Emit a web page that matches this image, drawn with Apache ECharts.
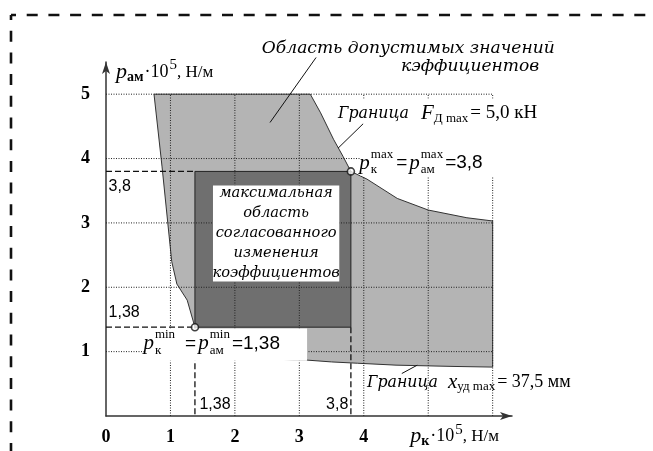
<!DOCTYPE html>
<html><head><meta charset="utf-8">
<script src="https://cdn.jsdelivr.net/npm/echarts@6/dist/echarts.min.js"></script>
<style>html,body{margin:0;padding:0;background:#fff}#c{width:653px;height:451px}</style>
</head><body><div id="c"></div>
<script>
// ---- data ----
const xTicks = [0, 1, 2, 3, 4, 5, 6];
const yTicks = [0, 1, 2, 3, 4, 5];
const xTickLabels = ['0', '1', '2', '3', '4'];
const yTickLabels = ['1', '2', '3', '4', '5'];
const pMin = 1.38;
const pMax = 3.8;
// boundary of the admissible region (p_k, p_am)
const regionBoundary = [
  [0.745, 5], [3.17, 5], [3.33, 4.71], [3.53, 4.3], [3.68, 4.03], [3.8, 3.8],
  [4.05, 3.68], [4.52, 3.38], [5.0, 3.2], [5.6, 3.08], [6.0, 3.03],
  [6.0, 0.76], [5.4, 0.77], [4.5, 0.79], [3.9, 0.82], [3.5, 0.84], [3.1, 0.87],
  [2.9, 0.87], [1.45, 0.95], [1.38, 1.38], [1.26, 1.8], [1.1, 2.05], [1.02, 2.4], [0.87, 3.87]
];
const maxRegion = [[pMin, pMin], [pMax, pMin], [pMax, pMax], [pMin, pMax]];
const keyPoints = [[pMin, pMin], [pMax, pMax]];
const guideLines = [
  [[0, pMax], [pMin, pMax]],
  [[0, pMin], [pMin, pMin]],
  [[pMin, pMin], [pMin, 0]],
  [[pMax, pMin], [pMax, 0]]
];
const boxLines = ['максимальная', 'область', 'согласованного', 'изменения', 'коэффициентов'];

// ---- layout helpers (not data) ----
const innerBox = [[1.66, 2.09], [3.62, 2.09], [3.62, 3.58], [1.66, 3.58]];
const minLabelBox = [[0.61, 0.86], [3.12, 0.86], [3.12, 1.36], [0.61, 1.36]];
const masks = [
  [[3.56, 4.29], [6.1, 4.29], [6.1, 4.93], [3.56, 4.93]],
  [[3.95, 3.73], [6.1, 3.73], [6.1, 4.29], [3.95, 4.29]]
];

function polySeries(points, fill, stroke, z) {
  return {
    type: 'custom', coordinateSystem: 'cartesian2d', z: z, silent: true, clip: false,
    encode: { x: 0, y: 1 }, data: points,
    renderItem: function (params, api) {
      if (params.dataIndex !== 0) return null;
      return { type: 'polygon', shape: { points: points.map(p => api.coord(p)) },
        style: { fill: fill, stroke: stroke || null, lineWidth: stroke ? 1 : 0 } };
    }
  };
}
function gridSeries(vals, vertical) {
  return {
    type: 'custom', coordinateSystem: 'cartesian2d', z: 3, silent: true,
    encode: vertical ? { x: 0 } : { y: 0 },
    data: vals.filter(v => v > 0).map(v => vertical ? [v, 0] : [0, v]),
    renderItem: function (params, api) {
      const v = vertical ? api.value(0) : api.value(1);
      const a = vertical ? api.coord([v, 0]) : api.coord([0, v]);
      const b = vertical ? api.coord([v, yTicks[yTicks.length - 1]]) : api.coord([xTicks[xTicks.length - 1], v]);
      return { type: 'line', shape: { x1: a[0], y1: a[1], x2: b[0], y2: b[1] },
        style: { stroke: '#222', lineWidth: 1, lineDash: [1, 1.5] } };
    }
  };
}

const series = [
  polySeries(regionBoundary, '#b4b4b4', '#333', 1),
  polySeries(maxRegion, '#6f6f6f', '#222', 2),
  gridSeries(xTicks, true),
  gridSeries(yTicks, false)
];
guideLines.forEach(l => series.push({
  type: 'line', data: l, symbol: 'none', z: 4, silent: true,
  lineStyle: { color: '#111', width: 1.3, type: [6, 3] }
}));
masks.forEach(m => series.push(polySeries(m, '#fff', null, 5)));
series.push(polySeries(innerBox, '#fff', null, 5));
series.push(polySeries(minLabelBox, '#fff', null, 5));
series.push({
  type: 'scatter', data: keyPoints, symbol: 'circle', symbolSize: 7, z: 6, silent: true,
  itemStyle: { color: '#fff', borderColor: '#111', borderWidth: 1.6 }
});

const option = {
  animation: false,
  backgroundColor: '#fff',
  grid: { left: 106, right: 141, top: 62, bottom: 35 },
  xAxis: {
    type: 'value', min: 0, max: 6.3, interval: 1,
    axisLine: { lineStyle: { color: '#333', width: 1.5 }, symbol: ['none', 'arrow'], symbolSize: [6, 12] },
    axisTick: { show: false }, splitLine: { show: false },
    axisLabel: { margin: 12, color: '#000', fontFamily: 'Liberation Serif', fontWeight: 'bold', fontSize: 18,
      formatter: v => { const i = xTicks.indexOf(v); return (i >= 0 && i < xTickLabels.length) ? xTickLabels[i] : ''; } }
  },
  yAxis: {
    type: 'value', min: 0, max: 5.5, interval: 1,
    axisLine: { lineStyle: { color: '#333', width: 1.5 }, symbol: ['none', 'arrow'], symbolSize: [6, 12] },
    axisTick: { show: false }, splitLine: { show: false },
    axisLabel: { margin: 16, color: '#000', fontFamily: 'Liberation Serif', fontWeight: 'bold', fontSize: 18,
      formatter: v => { const i = yTicks.indexOf(v); return (i > 0) ? yTickLabels[i - 1] : ''; } }
  },
  series: series
};

const chart = echarts.init(document.getElementById('c'));
chart.setOption(option);

// ---- annotations ----
const cv = document.createElement('canvas').getContext('2d');
function W(t, f) { cv.font = f; return cv.measureText(t).width; }
function fitSize(t, style, fam, target) { const f = style + ' 20px ' + fam; return 20 * target / W(t, f); }
function P(x, y) { return chart.convertToPixel({ gridIndex: 0 }, [x, y]); }
function T(t, x, y, f, align) {
  return { type: 'text', z: 100, silent: true,
    style: { text: t, x: x, y: y, font: f, fill: '#000',
      textAlign: align || 'left', textVerticalAlign: 'middle', align: align || 'left', verticalAlign: 'middle' } };
}
function L(a, b) {
  return { type: 'line', z: 100, silent: true, shape: { x1: a[0], y1: a[1], x2: b[0], y2: b[1] },
    style: { stroke: '#111', lineWidth: 1 } };
}
function formula(pt, parts) {
  const els = []; let x = pt[0]; const yc = pt[1];
  parts.forEach(p => {
    if (p.t !== undefined) {
      els.push(T(p.t, x, yc + (p.dy || 0), p.f));
      x += W(p.t, p.f) + (p.gap || 0);
    } else {
      els.push(T(p.sup, x, yc + p.supDy, p.f));
      els.push(T(p.sub, x, yc + p.subDy, p.f));
      x += Math.max(W(p.sup, p.f), W(p.sub, p.f)) + (p.gap || 0);
    }
  });
  return els;
}

const SERIF = '"Liberation Serif"';
const DEC = '"DejaVu Serif"';
const fP = 'italic 21px ' + SERIF;
const fS = '13px ' + SERIF;
const fEq = '19px "Liberation Sans"';
const els = [];

// dashed frame
els.push({ type: 'line', z: 100, silent: true, shape: { x1: 11, y1: 15, x2: 660, y2: 15 },
  style: { stroke: '#111', lineWidth: 2.6, lineDash: [11, 10.7], lineDashOffset: 6 } });
els.push({ type: 'line', z: 100, silent: true, shape: { x1: 11, y1: 15, x2: 11, y2: 460 },
  style: { stroke: '#111', lineWidth: 2.6, lineDash: [11, 10.7], lineDashOffset: 6 } });

// top annotation
const sArea = fitSize('Область допустимых значений', 'italic', DEC, 293);
const fArea = 'italic ' + sArea.toFixed(2) + 'px ' + DEC;
let a1 = P(4.69, 5.71), a2 = P(5.65, 5.43);
els.push(T('Область допустимых значений', a1[0], a1[1], fArea, 'center'));
els.push(T('кэффициентов', a2[0], a2[1], fArea, 'center'));
els.push(L(P(3.26, 5.57), P(2.545, 4.56)));

// inner box text
const sBox = fitSize('согласованного', 'italic', DEC, 121);
const fBox = 'italic ' + sBox.toFixed(2) + 'px ' + DEC;
const bc = P(2.64, 3.5);
boxLines.forEach((t, i) => els.push(T(t, bc[0], bc[1] + 2 + i * 20, fBox, 'center')));

// Граница F
const sGr = fitSize('Граница', 'italic', DEC, 71);
const fGr = 'italic ' + sGr.toFixed(2) + 'px ' + DEC;
els.push(...formula(P(3.60, 4.70), [
  { t: 'Граница', f: fGr, gap: 12 },
  { t: 'F', f: 'italic 21px ' + SERIF, gap: 0 },
  { t: 'Д max', f: fS, dy: 5, gap: 2 },
  { t: '= 5,0 кН', f: '19px ' + SERIF }
]));
els.push(L(P(3.99, 4.54), P(3.60, 4.16)));

// p max
els.push(...formula(P(3.93, 3.93), [
  { t: 'p', f: fP, gap: 1 },
  { sup: 'max', sub: 'к', f: fS, supDy: -8, subDy: 7, gap: 3 },
  { t: '=', f: fEq, gap: 2 },
  { t: 'p', f: fP, gap: 1 },
  { sup: 'max', sub: 'ам', f: fS, supDy: -8, subDy: 7, gap: 2 },
  { t: '=3,8', f: fEq }
]));

// p min
els.push(...formula(P(0.58, 1.13), [
  { t: 'p', f: fP, gap: 1 },
  { sup: 'min', sub: 'к', f: fS, supDy: -9, subDy: 7, gap: 10 },
  { t: '=', f: fEq, gap: 2 },
  { t: 'p', f: fP, gap: 1 },
  { sup: 'min', sub: 'ам', f: fS, supDy: -9, subDy: 7, gap: 2 },
  { t: '=1,38', f: fEq }
]));

// Граница x
els.push(...formula(P(4.05, 0.52), [
  { t: 'Граница', f: fGr, gap: 10 },
  { t: 'x', f: 'italic 21px ' + SERIF, gap: 0 },
  { t: 'уд max', f: fS, dy: 4, gap: 2 },
  { t: '= 37,5 мм', f: '18px ' + SERIF }
]));
els.push(L(P(4.83, 0.79), P(4.59, 0.66)));

// guide value labels
const fVal = '16px "Liberation Sans"';
let q;
q = P(0.04, 3.57); els.push(T('3,8', q[0], q[1], fVal));
q = P(0.04, 1.61); els.push(T('1,38', q[0], q[1], fVal));
q = P(1.45, 0.17); els.push(T('1,38', q[0], q[1], fVal));
q = P(3.76, 0.17); els.push(T('3,8', q[0], q[1], fVal, 'right'));

// axis names
els.push(...formula(P(0.155, 5.34), [
  { t: 'p', f: 'italic 22px ' + SERIF, gap: 0 },
  { t: 'ам', f: 'bold 14px ' + SERIF, dy: 5, gap: 1 },
  { t: '·10', f: '18px ' + SERIF, gap: 1 },
  { t: '5', f: '15px ' + SERIF, dy: -7, gap: 0 },
  { t: ', Н/м', f: '17px ' + SERIF }
]));
els.push(...formula(P(4.72, -0.32), [
  { t: 'p', f: 'italic 22px ' + SERIF, gap: 0 },
  { t: 'к', f: 'bold 14px ' + SERIF, dy: 5, gap: 1 },
  { t: '·10', f: '18px ' + SERIF, gap: 1 },
  { t: '5', f: '15px ' + SERIF, dy: -7, gap: 0 },
  { t: ', Н/м', f: '17px ' + SERIF }
]));

chart.setOption({ graphic: { elements: els } });
</script>
</body></html>
